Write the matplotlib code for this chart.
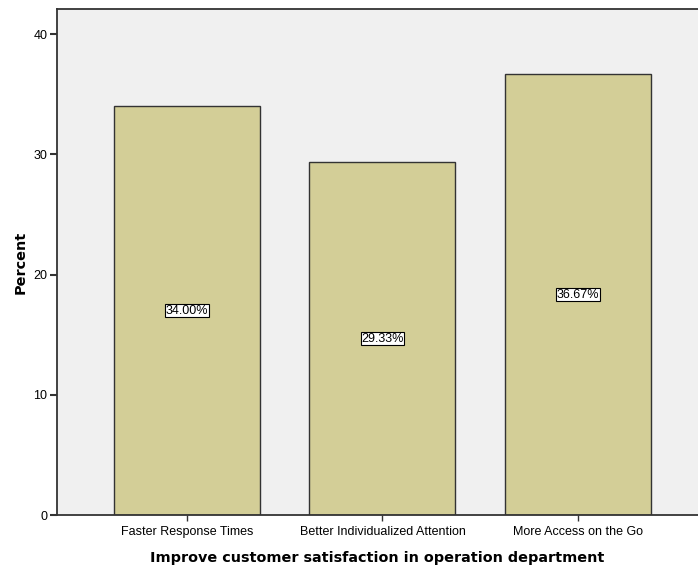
import matplotlib
matplotlib.use("Agg")
import matplotlib.pyplot as plt

categories = ["Faster Response Times", "Better Individualized Attention", "More Access on the Go"]
percents = [34.00, 29.33, 36.67]
yticks = [0, 10, 20, 30, 40]

fig = plt.figure(figsize=(6.98, 5.69), dpi=100)
ax = fig.add_axes([57/698, 54/569, 641/698, 506/569])
ax.set_facecolor("#f0f0f0")

x = list(range(len(categories)))
ax.bar(x, percents, width=0.747, color="#d3ce97", edgecolor="#333333", linewidth=1)

for xi, v in zip(x, percents):
    ax.text(xi, v / 2, "%.2f%%" % v, ha="center", va="center", fontsize=9,
            family="Liberation Sans",
            bbox=dict(boxstyle="square,pad=0.05", fc="white", ec="black", lw=0.8))

ax.set_xlim(-0.665, 2.614)
ax.set_ylim(0, 42.08)
ax.set_xticks(x)
ax.set_xticklabels(categories, fontsize=9, family="Liberation Sans")
ax.set_yticks(yticks)
ax.set_yticklabels([str(t) for t in yticks], fontsize=9, family="Liberation Sans")
ax.tick_params(axis="y", length=5, width=1.5, color="#333333", pad=2)
ax.tick_params(axis="x", length=4, width=1, color="#333333", pad=4)

for s in ["left", "bottom", "top"]:
    ax.spines[s].set_color("#333333")
    ax.spines[s].set_linewidth(1.3)
ax.spines["right"].set_visible(False)

ax.set_ylabel("Percent", fontsize=10.4, fontweight="bold", labelpad=4)
ax.set_xlabel("Improve customer satisfaction in operation department", fontsize=10.4,
              fontweight="bold", labelpad=9)

fig.savefig("out.png", dpi=100)
